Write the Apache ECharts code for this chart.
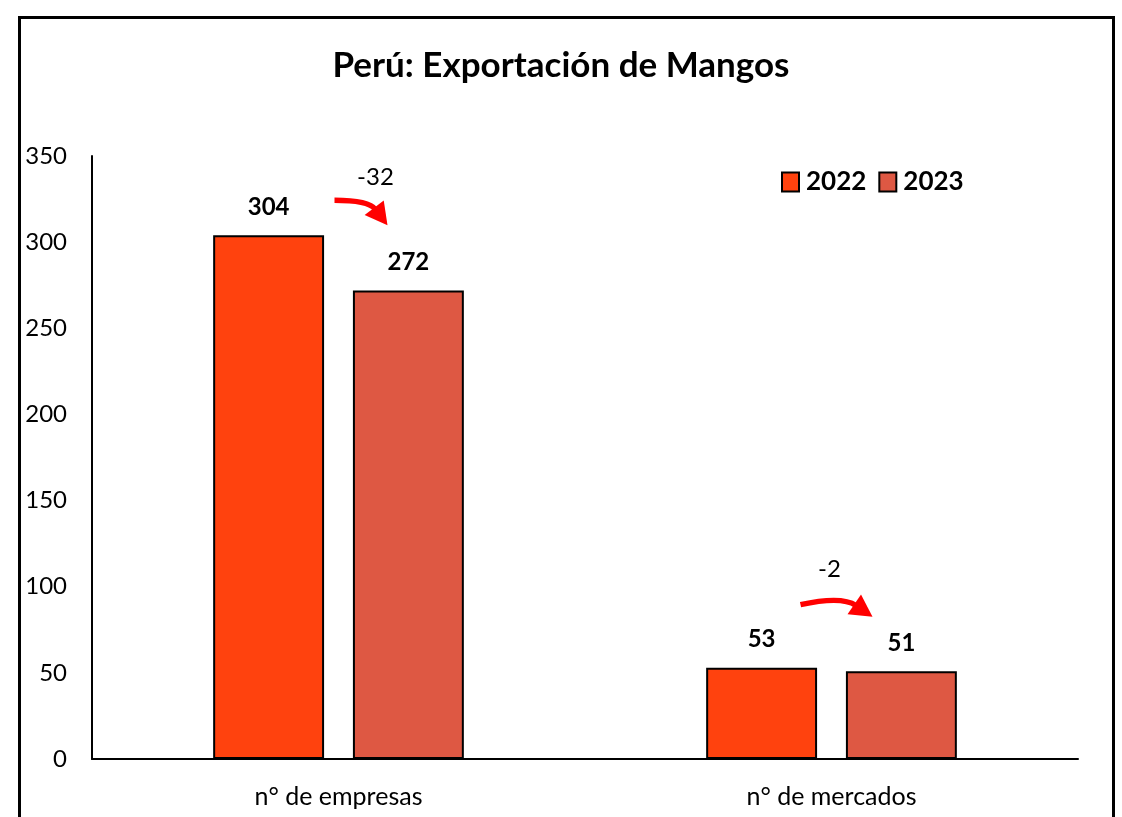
<!DOCTYPE html>
<html>
<head>
<meta charset="utf-8">
<script src="https://cdn.jsdelivr.net/npm/echarts@6/dist/echarts.min.js"></script>
<style>
html,body{margin:0;padding:0;background:#fff;}
#frame{position:absolute;left:18px;top:16px;width:1091px;height:830px;border:3px solid #000;box-sizing:content-box;}
#c{position:absolute;left:0;top:0;width:1122px;height:817px;}
</style>
</head>
<body>
<div id="frame"></div>
<div id="c"></div>
<script>
const title = 'Perú: Exportación de Mangos';
const categories = ['n° de empresas', 'n° de mercados'];
const seriesNames = ['2022', '2023'];
const values2022 = [304, 53];
const values2023 = [272, 51];
const yTicks = [0, 50, 100, 150, 200, 250, 300, 350];

const FONT = 'Lato, "Open Sans", sans-serif';
const colors = ['#FF420E', '#DE5843'];

const chart = echarts.init(document.getElementById('c'), null, {renderer: 'canvas'});
const labelStyle = {show: true, position: 'top', distance: 16, fontFamily: FONT, fontWeight: 'bold', fontSize: 24, color: '#000'};
chart.setOption({
  animation: false,
  title: {text: title, left: 'center', top: 43, textStyle: {fontFamily: FONT, fontWeight: 'bold', fontSize: 35, color: '#000'}},
  legend: {
    data: seriesNames, left: 776, top: 164, itemWidth: 17, itemHeight: 19, itemGap: 12,
    icon: 'rect',
    textStyle: {fontFamily: FONT, fontWeight: 'bold', fontSize: 26, color: '#000', padding: [0,0,0,2]}
  },
  grid: {left: 92, right: 44, top: 156, bottom: 58, containLabel: false},
  xAxis: {
    type: 'category', data: categories,
    axisLine: {lineStyle: {color: '#000', width: 2}},
    axisTick: {show: false},
    axisLabel: {fontFamily: FONT, fontSize: 25, color: '#000', margin: 25}
  },
  yAxis: {
    type: 'value', min: yTicks[0], max: yTicks[yTicks.length - 1], interval: yTicks[1] - yTicks[0],
    axisLine: {show: true, lineStyle: {color: '#000', width: 2}},
    axisTick: {show: false},
    splitLine: {show: false},
    axisLabel: {fontFamily: FONT, fontSize: 24, color: '#000', margin: 25}
  },
  series: [
    {name: seriesNames[0], type: 'bar', data: values2022, barWidth: '22.5%', barGap: '26%',
     itemStyle: {color: colors[0], borderColor: '#000', borderWidth: 2}, label: labelStyle},
    {name: seriesNames[1], type: 'bar', data: values2023, barWidth: '22.5%', barGap: '26%',
     itemStyle: {color: colors[1], borderColor: '#000', borderWidth: 2}, label: labelStyle}
  ]
});

// change annotations (difference between years) with curved arrows
function arrow(x1, y1, cx, cy, x2, y2) {
  const ang = Math.atan2(y2 - cy, x2 - cx);
  const L = 22, W = 12;
  const bx = x2 - L * Math.cos(ang), by = y2 - L * Math.sin(ang);
  const px = -Math.sin(ang), py = Math.cos(ang);
  const sx = x2 - (L - 2) * Math.cos(ang), sy = y2 - (L - 2) * Math.sin(ang);
  return [
    {type: 'bezierCurve', shape: {x1: x1, y1: y1, cpx1: cx, cpy1: cy, x2: sx, y2: sy}, style: {stroke: '#FF0000', lineWidth: 5.5, fill: null}, silent: true},
    {type: 'polygon', shape: {points: [[x2, y2], [bx + px * W, by + py * W], [bx - px * W, by - py * W]]}, style: {fill: '#FF0000'}, silent: true}
  ];
}
const layout = [
  {text: [37, -58], a: [-4, -35], c: [30, -35], e: [49, -10]},
  {text: [-2, -98], a: [-31, -63], c: [10, -72], e: [41, -51]}
];
const graphics = [];
categories.forEach((cat, i) => {
  const diff = values2023[i] - values2022[i];
  const p = chart.convertToPixel({gridIndex: 0}, [i, Math.max(values2022[i], values2023[i])]);
  const L = layout[i];
  graphics.push({type: 'text', x: p[0] + L.text[0], y: p[1] + L.text[1], style: {text: String(diff), font: '24px ' + FONT, fill: '#000', textAlign: 'center', textVerticalAlign: 'middle'}, silent: true});
  graphics.push(...arrow(p[0] + L.a[0], p[1] + L.a[1], p[0] + L.c[0], p[1] + L.c[1], p[0] + L.e[0], p[1] + L.e[1]));
});
chart.setOption({graphic: graphics});
</script>
</body>
</html>
